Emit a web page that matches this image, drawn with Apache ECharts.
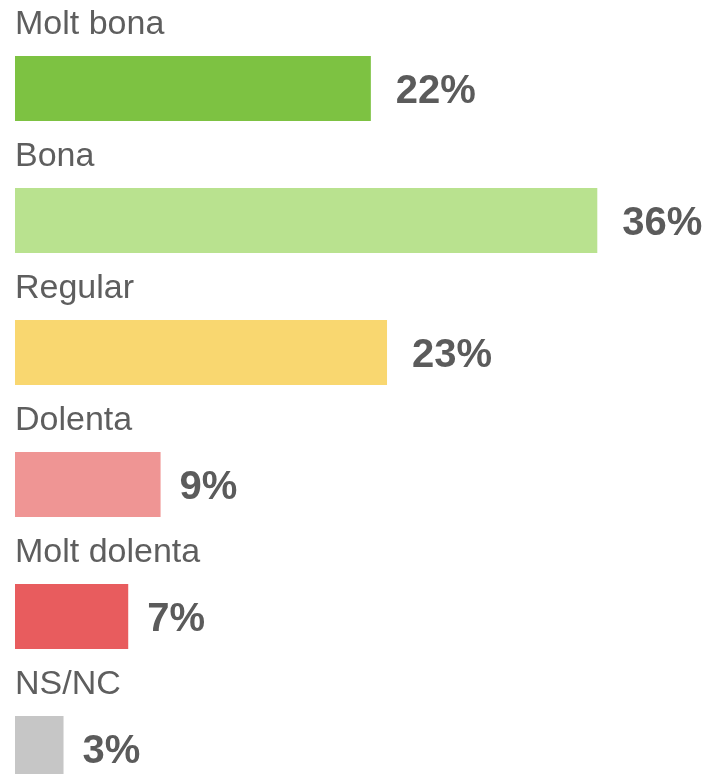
<!DOCTYPE html>
<html>
<head>
<meta charset="utf-8">
<script src="https://cdn.jsdelivr.net/npm/echarts@6/dist/echarts.min.js"></script>
<style>
html,body{margin:0;padding:0;background:#fff;}
#chart{width:707px;height:774px;}
</style>
</head>
<body>
<div id="chart"></div>
<script>
const categories = ['Molt bona', 'Bona', 'Regular', 'Dolenta', 'Molt dolenta', 'NS/NC'];
const values = [22, 36, 23, 9, 7, 3];
const colors = ['#7dc242', '#b9e28f', '#f9d770', '#ef9594', '#e85c5e', '#c6c6c6'];

const valueLabel = {
  show: true,
  position: 'right',
  distance: 25,
  offset: [0, 3],
  formatter: p => p.value + '%',
  fontFamily: 'Liberation Sans, Arial, sans-serif',
  fontWeight: 'bold',
  fontSize: 40,
  color: '#5b5b5b'
};

const chart = echarts.init(document.getElementById('chart'));
chart.setOption({
  animation: false,
  grid: { left: 15, top: 22.5, width: 647, height: 792, containLabel: false, outerBoundsMode: 'none' },
  xAxis: { type: 'value', min: 0, max: 40, show: false },
  yAxis: { type: 'category', data: categories, inverse: true, show: false },
  series: [
    {
      type: 'bar',
      barWidth: 65,
      barGap: '-100%',
      data: values.map((v, i) => ({
        value: v,
        itemStyle: { color: colors[i] },
        label: Object.assign({}, valueLabel, { distance: v < 10 ? 19 : 25 })
      })),
      label: valueLabel
    },
    {
      type: 'bar',
      barWidth: 65,
      barGap: '-100%',
      silent: true,
      data: values,
      itemStyle: { color: 'rgba(0,0,0,0)' },
      label: {
        show: true,
        position: 'insideLeft',
        distance: 0,
        offset: [0, -63.5],
        formatter: p => categories[p.dataIndex],
        fontFamily: 'Liberation Sans, Arial, sans-serif',
        fontSize: 34,
        color: '#5e5e5e'
      }
    }
  ]
});
</script>
</body>
</html>
